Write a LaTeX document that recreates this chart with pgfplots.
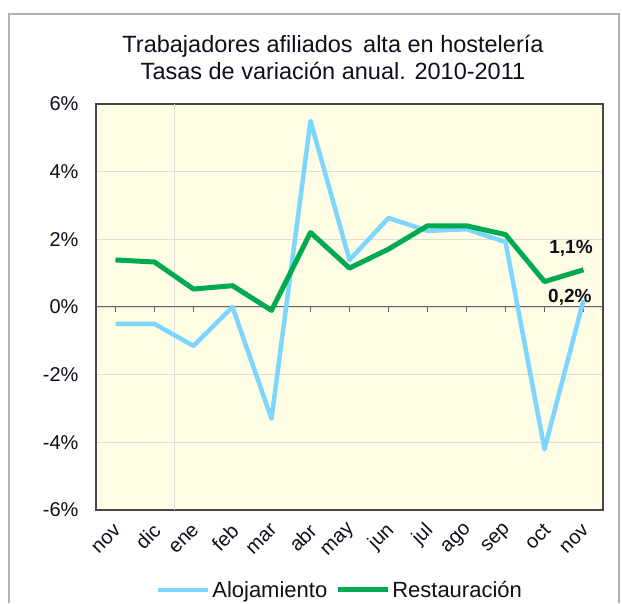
\documentclass[border=0pt]{standalone}
\usepackage{fontspec}
\setmainfont{Liberation Sans}
\usepackage{pgfplots}
\pgfplotsset{compat=1.18}
\definecolor{aloj}{RGB}{125,214,255}
\definecolor{rest}{RGB}{0,170,80}
\definecolor{plotbg}{RGB}{255,253,228}
\definecolor{txt}{RGB}{15,15,30}
\definecolor{frame}{RGB}{70,70,70}
\definecolor{gridc}{RGB}{222,222,215}
\begin{document}
\begin{tikzpicture}[x=1pt,y=1pt]
\fill[white] (0,0) rectangle (622,601);
\draw[gray!60, line width=2pt] (9,-2) -- (9,587) -- (619,587) -- (619,-2);
\node[align=center, text=txt, font=\fontsize{23.5}{27}\selectfont] at (333,544) {Trabajadores afiliados\, alta en hostelería\\Tasas de variación anual. 2010-2011};
\begin{axis}[
  at={(96pt,91pt)}, anchor=south west,
  width=507pt, height=406pt, scale only axis,
  xmin=-0.5, xmax=12.5, ymin=-6, ymax=6,
  axis background/.style={fill=plotbg},
  axis line style={frame, line width=1.6pt},
  xtick={0,...,12},
  xticklabels={nov,dic,ene,feb,mar,abr,may,jun,jul,ago,sep,oct,nov},
  ytick={-6,-4,-2,0,2,4,6},
  yticklabel={\pgfmathprintnumber{\tick}\%},
  /pgf/number format/assume math mode=true,
  major tick length=0pt,
  ymajorgrids, grid style={gridc, line width=0.8pt},
  tick label style={text=txt, font=\fontsize{20}{22}\selectfont},
  yticklabel style={xshift=-14pt},
  xticklabel style={xshift=5pt, yshift=-15pt, rotate=45, anchor=east},
  legend style={at={(0.481,-0.197)}, anchor=center, draw=none, fill=none,
    font=\fontsize{22}{24}\selectfont, text=txt, legend columns=2,
    /tikz/every even column/.append style={column sep=6pt}},
  legend cell align=left,
  legend image code/.code={\draw[#1] (0pt,0pt) -- (50pt,0pt);},
  clip=false,
]
\draw[gridc, line width=1pt] (axis cs:1.5,-6) -- (axis cs:1.5,6);
\draw[gray!80!black, line width=1pt] (axis cs:-0.5,0) -- (axis cs:12.5,0);
\pgfplotsinvokeforeach{0,...,12}{\draw[gray!80!black, line width=0.8pt] (axis cs:#1,0) -- ++(0pt,-5pt);}
\addplot[aloj, line width=4.5pt, line join=round] coordinates {
 (0,-0.5) (1,-0.5) (2,-1.15) (3,0.0) (4,-3.3) (5,5.5) (6,1.39) (7,2.63) (8,2.25) (9,2.3) (10,1.92) (11,-4.2) (12,0.2)};
\addlegendentry{Alojamiento}
\addplot[rest, line width=5pt, line join=round] coordinates {
 (0,1.39) (1,1.33) (2,0.53) (3,0.63) (4,-0.1) (5,2.2) (6,1.15) (7,1.71) (8,2.4) (9,2.4) (10,2.14) (11,0.75) (12,1.1)};
\addlegendentry{Restauración}
\node[font=\bfseries\fontsize{19}{21}\selectfont, text=txt] at (axis cs:11.68,1.72) {1,1\%};
\node[font=\bfseries\fontsize{19}{21}\selectfont, text=txt] at (axis cs:11.65,0.30) {0,2\%};
\end{axis}
\end{tikzpicture}
\end{document}
